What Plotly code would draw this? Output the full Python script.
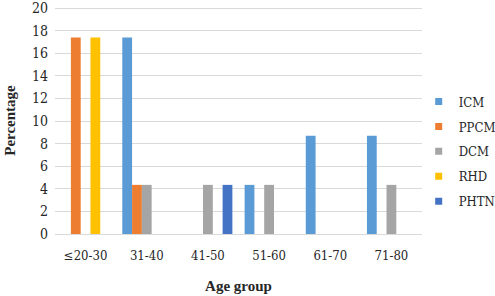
import plotly.graph_objects as go

categories = ["≤20-30", "31-40", "41-50", "51-60", "61-70", "71-80"]
icm = [0, 17.39, 0, 4.35, 8.70, 8.70]
ppcm = [17.39, 4.35, 0, 0, 0, 0]
dcm = [0, 4.35, 4.35, 4.35, 0, 4.35]
rhd = [17.39, 0, 0, 0, 0, 0]
phtn = [0, 0, 4.35, 0, 0, 0]

series = [
    ("ICM", icm, "#5B9BD5"),
    ("PPCM", ppcm, "#ED7D31"),
    ("DCM", dcm, "#A5A5A5"),
    ("RHD", rhd, "#FFC000"),
    ("PHTN", phtn, "#4472C4"),
]

bold_family = "Liberation Serif"
reg_family = "DejaVu Serif Condensed, DejaVu Serif"

fig = go.Figure()
for name, vals, color in series:
    fig.add_trace(go.Bar(x=categories, y=vals, name=name, marker_color=color,
                         marker_line_width=0, showlegend=False))
for name, vals, color in series:
    fig.add_trace(go.Scatter(x=[None], y=[None], mode="markers", name=name,
                             legendgroup=name,
                             marker=dict(symbol="square", size=7, color=color)))

fig.update_layout(
    width=495, height=296,
    margin=dict(l=55, r=73, t=7, b=62, autoexpand=False),
    paper_bgcolor="white", plot_bgcolor="white",
    barmode="group", bargap=0.2, bargroupgap=0,
    font=dict(family=reg_family, size=13, color="#262626"),
    legend=dict(x=0.991, xanchor="left", y=0.363, yanchor="middle",
                font=dict(family=reg_family, size=13, color="#262626"),
                tracegroupgap=5, itemwidth=30, bgcolor="rgba(0,0,0,0)"),
    xaxis=dict(showgrid=False, showline=True, linecolor="#D9D9D9", linewidth=1,
               ticks="", automargin=False, ticklabelstandoff=9,
               tickfont=dict(family=reg_family, size=13),
               title=dict(text="<b>Age group</b>",
                          font=dict(family=bold_family, size=15), standoff=18)),
    yaxis=dict(range=[0, 20.1], dtick=2, showgrid=True, gridcolor="#D9D9D9",
               zeroline=False, showline=False, ticks="", automargin=False,
               ticklabelstandoff=6,
               tickfont=dict(family=reg_family, size=14),
               title=dict(text="<b>Percentage</b>",
                          font=dict(family=bold_family, size=15), standoff=12)),
)

fig.write_html("out.html", config={"displayModeBar": False},
               post_script="document.body.style.margin='0';document.body.style.overflow='hidden';")
